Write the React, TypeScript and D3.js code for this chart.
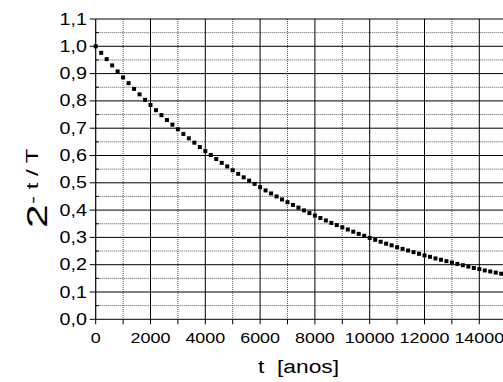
import React from "react";
import * as d3 from "d3";

const tValues: number[] = [
  0, 200, 400, 600, 800, 1000, 1200, 1400, 1600, 1800, 2000, 2200, 2400, 2600, 2800,
  3000, 3200, 3400, 3600, 3800, 4000, 4200, 4400, 4600, 4800, 5000, 5200, 5400, 5600, 5800,
  6000, 6200, 6400, 6600, 6800, 7000, 7200, 7400, 7600, 7800, 8000, 8200, 8400, 8600, 8800,
  9000, 9200, 9400, 9600, 9800, 10000, 10200, 10400, 10600, 10800, 11000, 11200, 11400, 11600, 11800,
  12000, 12200, 12400, 12600, 12800, 13000, 13200, 13400, 13600, 13800, 14000, 14200, 14400, 14600, 14800,
  15000,
];
// 2^(-t/T) values
const yValues: number[] = [
  1.0, 0.976, 0.953, 0.93, 0.908, 0.886, 0.865, 0.844, 0.824, 0.804, 0.785, 0.766, 0.748, 0.73, 0.713,
  0.696, 0.679, 0.663, 0.647, 0.631, 0.616, 0.602, 0.587, 0.573, 0.56, 0.546, 0.533, 0.52, 0.508, 0.496,
  0.484, 0.472, 0.461, 0.45, 0.439, 0.429, 0.419, 0.409, 0.399, 0.389, 0.38, 0.371, 0.362, 0.353, 0.345,
  0.337, 0.329, 0.321, 0.313, 0.306, 0.298, 0.291, 0.284, 0.277, 0.271, 0.264, 0.258, 0.252, 0.246, 0.24,
  0.234, 0.229, 0.223, 0.218, 0.213, 0.208, 0.203, 0.198, 0.193, 0.188, 0.184, 0.179, 0.175, 0.171, 0.167,
  0.163,
];
const xTickLabels: number[] = [0, 2000, 4000, 6000, 8000, 10000, 12000, 14000];
const yTickLabels: string[] = ["0,0", "0,1", "0,2", "0,3", "0,4", "0,5", "0,6", "0,7", "0,8", "0,9", "1,0", "1,1"];
const xTitle = "t  [anos]";
const yTitleBase = "2";
const yTitleExp = "- t / T";

const W = 503;
const H = 382;
const FONT = "'Liberation Sans', Arial, Helvetica, sans-serif";

export default function App() {
  const x = d3.scaleLinear().domain([0, 15000]).range([95.7, 506.7]);
  const y = d3.scaleLinear().domain([0, 1.1]).range([319.3, 19]);

  const xGrid = d3.range(1000, 15001, 1000);
  const xAll = d3.range(0, 15001, 1000);
  const yMajor = d3.range(0, 12).map((i) => i / 10);
  const yMinor = d3.range(0, 11).map((i) => i / 10 + 0.05);

  return (
    <svg
      width={W}
      height={H}
      style={{ position: "absolute", left: 0, top: 0, background: "#fff" }}
      fontFamily={FONT}
    >
      <rect x={0} y={0} width={W} height={H} fill="#fff" />
      {/* minor horizontal dotted grid */}
      {yMinor.map((v) => (
        <line key={"ym" + v} x1={x(0)} x2={x(15000)} y1={y(v)} y2={y(v)} stroke="#555" strokeWidth={1} strokeDasharray="1,1" />
      ))}
      {/* vertical grid */}
      {xGrid.map((v) =>
        (v / 1000) % 2 === 0 ? (
          <line key={"xg" + v} x1={x(v)} x2={x(v)} y1={y(1.1)} y2={y(0)} stroke="#000" strokeWidth={1} />
        ) : (
          <line key={"xg" + v} x1={x(v)} x2={x(v)} y1={y(1.1)} y2={y(0)} stroke="#555" strokeWidth={1} strokeDasharray="1,1" />
        )
      )}
      {/* major horizontal grid */}
      {yMajor.map((v) => (
        <line key={"yM" + v} x1={x(0)} x2={x(15000)} y1={y(v)} y2={y(v)} stroke="#000" strokeWidth={1} />
      ))}
      {/* left axis */}
      <line x1={x(0)} x2={x(0)} y1={y(1.1)} y2={y(0)} stroke="#000" strokeWidth={1.2} />
      {/* y ticks */}
      {yMajor.map((v) => (
        <line key={"yt" + v} x1={x(0) - 6} x2={x(0)} y1={y(v)} y2={y(v)} stroke="#000" strokeWidth={1} />
      ))}
      {yMinor.map((v) => (
        <line key={"ytm" + v} x1={x(0)} x2={x(0) + 3} y1={y(v)} y2={y(v)} stroke="#000" strokeWidth={1} />
      ))}
      {/* x ticks */}
      {xAll.map((v) => (
        <line key={"xt" + v} x1={x(v)} x2={x(v)} y1={y(0)} y2={y(0) + 5} stroke="#000" strokeWidth={1} />
      ))}
      {/* x tick labels */}
      {xTickLabels.map((v) => (
        <text
          key={"xl" + v}
          transform={`translate(${x(v)},${343.3}) scale(1.17,1)`}
          textAnchor="middle"
          fontSize={15.3}
          fill="#000"
        >
          {String(v)}
        </text>
      ))}
      {/* y tick labels */}
      {yTickLabels.map((s, i) => (
        <text
          key={"yl" + s}
          transform={`translate(${87},${y(i / 10) + 5.5}) scale(1.25,1)`}
          textAnchor="end"
          fontSize={15.8}
          fill="#000"
        >
          {s}
        </text>
      ))}
      {/* data */}
      {tValues.map((t, i) => (
        <rect key={"p" + t} x={x(t) - 2} y={y(yValues[i]) - 2} width={4} height={4} fill="#000" />
      ))}
      {/* x title */}
      <text
        transform={`translate(${298.5},${373.3}) scale(1.2,1)`}
        textAnchor="middle"
        fontSize={19}
        fill="#000"
        style={{ whiteSpace: "pre" }}
      >
        {xTitle}
      </text>
      {/* y title */}
      <text
        transform={`translate(${46.7},${228}) rotate(-90) scale(1.42,1)`}
        textAnchor="start"
        fontSize={30}
        fill="#000"
      >
        {yTitleBase}
      </text>
      <text
        transform={`translate(${38.3},${204}) rotate(-90) scale(1.5,1)`}
        textAnchor="start"
        fontSize={16}
        fill="#000"
        style={{ whiteSpace: "pre" }}
      >
        {yTitleExp}
      </text>
    </svg>
  );
}
